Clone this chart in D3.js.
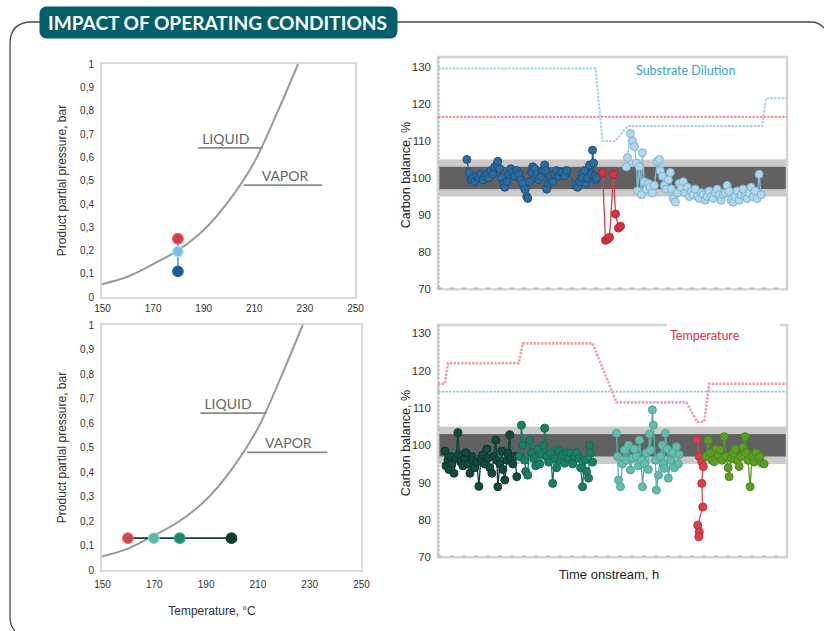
<!DOCTYPE html>
<html><head><meta charset="utf-8">
<script src="https://cdn.jsdelivr.net/npm/d3@7"></script>
<style>
html,body{margin:0;padding:0;background:#fff;}
svg{display:block;}
</style></head>
<body>
<svg id="c" width="824" height="631"></svg>
<script>
// ---------- DATA ----------
const titleText = "IMPACT OF OPERATING CONDITIONS";
const tempTicks = [150,170,190,210,230,250];
const pressTicks = [0,0.1,0.2,0.3,0.4,0.5,0.6,0.7,0.8,0.9,1];
const balanceTicks = [70,80,90,100,110,120,130];

// vapor pressure curve (temperature °C, pressure bar)
const curveTemp = [150,160,170,180,190,200,210,220,227.5];
const curvePress = [0.055,0.087,0.14,0.2,0.285,0.41,0.575,0.81,1.0];
const liquidLabel = {text:"LIQUID", t0:188, t1:213.5, p:0.64};
const vaporLabel = {text:"VAPOR", t0:206, t1:237, p:0.48};

// operating points
const dilutionTemp = [180,180,180];
const dilutionPress = [0.25,0.195,0.11];
const dilutionColors = ["#c9404d","#7dbde3","#1d5a92"];
const temperatureTemp = [160,170,180,200];
const temperaturePress = [0.13,0.13,0.13,0.13];
const temperatureColors = ["#c94a56","#5cb5a6","#1d8a6c","#0e3b2d"];

// carbon balance bands
const bandOuter = [95,105];
const bandInner = [97,103];

// time-series (time onstream, carbon balance %) – top chart: substrate dilution
const seriesDarkBlue = [[29,105],[31,101.5],[33,99.5],[35,100],[37,99],[39,100.5],[41,100],[43,101],[45,99.5],[47,100.5],[49,101],[51,100],[53,102],[55,101],[57,103],[59,103.5],[60,104.5],[62,102.5],[64,100],[66,98.5],[67,97.5],[69,99],[71,101],[73,102.5],[75,101.5],[77,100.5],[79,102],[81,101],[83,99.5],[85,98.5],[87,97],[89,95],[90,94.5],[92,99],[94,101.5],[95,103],[97,102.5],[99,101],[101,99.5],[103,100.5],[105,102],[107,103.5],[108,102],[109,97],[111,98.5],[113,100.5],[115,99],[117,101],[119,102],[121,100.5],[123,101.5],[125,101.5],[127,100.5],[129,102],[138,98],[140,97.5],[142,99],[144,101],[145,100],[147,102],[148,98.5],[150,100],[152,103.5],[154,101],[155,107.5],[156,104],[157,100.5],[158,99.5],[159,100]];
const seriesRedTop = [[165,101.4],[168,83.2],[170,83.5],[172,84],[176,101],[178,90.3],[181,86.5],[183,87]];
const seriesLightBlue = [[189,103],[190,105.5],[193,112],[195,110],[197,108.5],[199,104],[200,96.5],[202,103],[204,95.5],[205,106.8],[207,99],[209,97],[211,98.5],[213,97.5],[215,96],[217,98],[220,104.5],[222,105],[223,102],[225,100.5],[227,98],[229,97],[231,99.5],[233,101.5],[234,97],[236,94.5],[238,93.5],[240,96],[242,98.5],[244,97.5],[246,99],[248,96],[250,97.5],[252,95],[254,96.5],[256,95.5],[258,97],[260,95],[262,94.5],[264,96],[266,95.5],[268,94],[270,95],[272,96.5],[274,95],[276,94.5],[278,96],[280,97],[282,95.5],[284,94],[286,95.5],[288,96],[290,98],[292,96.5],[294,94],[296,93.5],[298,95],[300,96.5],[302,94],[304,95.5],[306,97],[308,95],[310,94.5],[312,96],[314,97.5],[316,95],[318,96.5],[320,94.5],[322,101],[324,95.5]];
const dilutionSetpoint = [[0,129.5],[158,129.5],[165,110],[178,110],[190,114],[325,114],[329,121.5],[350,121.5]];
const tempSetpointTop = [[0,116.5],[350,116.5]];

// bottom chart: temperature
const seriesDarkGreen = [[7,98.5],[8,94.5],[10,96],[11,93.5],[13,97],[14,95],[16,92.5],[18,96.5],[20,103.4],[21,97.5],[23,95.5],[25,94.5],[27,96.5],[28,98],[30,95],[32,92.5],[34,97],[35,96],[37,94],[39,95.5],[41,89],[43,96.5],[45,97.5],[47,95],[49,99],[50,96.5],[52,94],[54,92.5],[56,97],[58,101.4],[59,96],[60,88.9],[62,95],[64,98.5],[65,93.5],[67,90.7],[69,96],[70,97.9],[72,102.8],[73,96.5],[75,95],[77,97],[79,91.6]];
const seriesTeal = [[82,97],[83.7,105.4],[85,100],[87,96],[88,93],[90,92],[92,101.4],[94,98],[96,96.5],[98,94.5],[100,99],[102,95],[104,97.5],[106,100],[107,104.6],[109,97],[111,95.5],[113,98],[115,89.8],[117,96.5],[119,94],[121,98.7],[123,96],[125,97.5],[127,95.2],[129,98],[131,96.5],[133,97.9],[135,95],[137,97],[139,98],[141,96.5],[143,94],[145,88.9],[147,96],[149,93],[151,91.2],[152,100],[153,97.9],[155,95.5]];
const seriesLightTeal = [[179,103.2],[180,97],[181,90.7],[183,88.9],[185,95],[187,98.7],[189,96],[191,100],[193,93.4],[195,96.5],[197,99],[199,97],[201,94.5],[202,101.4],[204,96],[205,88.9],[207,95],[209,98],[211,93.5],[212,103],[213,98.7],[215,109.5],[216,105.4],[218,96],[219,88],[221,92],[223,97],[225,100],[226,95],[227,93.8],[228,103.2],[230,99],[231,91.2],[233,96],[235,98],[237,94],[239,99.6],[241,95],[242,97.5]];
const seriesRedBottom = [[260,101.5],[262,97],[264.5,95.6],[266,94.3],[264.5,89.8],[265.5,83.5],[260.5,78.6],[262,76.8],[261.5,75.5]];
const seriesYellowGreen = [[269,97],[271,101.4],[273,98],[275,96],[277,95.6],[279,99],[281,97.5],[283,98.7],[285,96],[287,102.3],[289,97],[291,94],[292,91.6],[294,96.5],[296,97.9],[298,99],[300,96],[302,94.3],[304,97],[306,99.5],[308,102.3],[309,98],[311,96],[313,88.9],[315,97],[317,95.5],[319,98],[321,96.5],[323,97],[325,95.2],[327,95]];
const tempSetpointBottom = [[0,116.5],[7,116.5],[10,122],[81,122],[85,127.3],[155,127.3],[179,111.5],[249,111.5],[260,106.3],[267,106.3],[272,116.5],[350,116.5]];
const dilutionSetpointBottom = [[0,114.4],[350,114.4]];

// ---------- DRAW ----------
const svg = d3.select("#c");
const axisFont = "'Liberation Sans', Arial, sans-serif";
const labelFont = "Lato, 'Open Sans', sans-serif";

// outer frame
svg.append("path")
  .attr("d","M15,631 Q10,626 10,617 L10,44 Q10,22 32,22 L40,22 M397,22 L811,22 Q819,22 824,28")
  .attr("fill","none").attr("stroke","#4a4a4a").attr("stroke-width",1.3);

// header
svg.append("rect").attr("x",39.5).attr("y",6.5).attr("width",358).attr("height",32).attr("rx",7).attr("fill","#005f69");
svg.append("text").attr("x",48).attr("y",30).text(titleText)
  .attr("fill","#fff").attr("font-family",labelFont).attr("font-weight",700).attr("font-size",19)
  .attr("textLength",339).attr("lengthAdjust","spacingAndGlyphs");

function fmtP(d){ return d===0?"0":(d===1?"1":d3.format(".1f")(d).replace(".",",")); }

function phaseChart(cfg){
  const x = d3.scaleLinear().domain([150,250]).range([cfg.x0,cfg.x1]);
  const y = d3.scaleLinear().domain([0,1]).range([cfg.y0,cfg.y1]);
  const g = svg.append("g");
  g.append("rect").attr("x",cfg.x0-1).attr("y",cfg.y1-1).attr("width",cfg.x1-cfg.x0+2).attr("height",cfg.y0-cfg.y1+2)
    .attr("fill","none").attr("stroke","#d9d9d9").attr("stroke-width",2);
  const ax = g.append("g").attr("transform",`translate(0,${cfg.y0+cfg.xTickGap})`)
    .call(d3.axisBottom(x).tickValues(tempTicks).tickSize(0).tickFormat(d3.format("d")));
  ax.select(".domain").remove();
  ax.selectAll("text").attr("font-family",axisFont).attr("font-size",10).attr("fill","#333");
  const ay = g.append("g").attr("transform",`translate(${cfg.x0-5},0)`)
    .call(d3.axisLeft(y).tickValues(pressTicks).tickSize(0).tickFormat(fmtP));
  ay.select(".domain").remove();
  ay.selectAll("text").attr("font-family",axisFont).attr("font-size",10).attr("fill","#333");
  g.append("text").attr("transform",`translate(${cfg.yTitleX},${(cfg.y0+cfg.y1)/2}) rotate(-90)`)
    .attr("text-anchor","middle").text("Product partial pressure, bar")
    .attr("font-family",axisFont).attr("font-size",12).attr("fill","#333");
  const pts = curveTemp.map((t,i)=>[t,curvePress[i]]);
  g.append("path").datum(pts)
    .attr("d",d3.line().x(d=>x(d[0])).y(d=>y(d[1])).curve(d3.curveCatmullRom))
    .attr("fill","none").attr("stroke","#9a9a9a").attr("stroke-width",2);
  [liquidLabel,vaporLabel].forEach(L=>{
    g.append("line").attr("x1",x(L.t0)).attr("x2",x(L.t1)).attr("y1",y(L.p)).attr("y2",y(L.p))
      .attr("stroke","#8a8a8a").attr("stroke-width",1.8);
    g.append("text").attr("x",x(L.t0)+ (L===liquidLabel?4:18)).attr("y",y(L.p)-4).text(L.text)
      .attr("font-family",labelFont).attr("font-size",14).attr("fill","#666");
  });
  const op = cfg.temps.map((t,i)=>[t,cfg.press[i],cfg.colors[i]]);
  g.append("path").datum(op).attr("d",d3.line().x(d=>x(d[0])).y(d=>y(d[1])))
    .attr("fill","none").attr("stroke",cfg.lineColor).attr("stroke-width",1.8);
  g.selectAll("circle.op").data(op).join("circle")
    .attr("cx",d=>x(d[0])).attr("cy",d=>y(d[1])).attr("r",5.3)
    .attr("fill",d=>d[2]).attr("stroke",d=>d3.color(d[2]).brighter(0.6)).attr("stroke-width",1.2);
  if(cfg.xTitle){
    g.append("text").attr("x",212).attr("y",cfg.xTitleY).attr("text-anchor","middle").text(cfg.xTitle)
      .attr("font-family",axisFont).attr("font-size",12).attr("fill","#333");
  }
}

phaseChart({x0:102,x1:355,y0:297,y1:64,yTitleX:66,xTickGap:5,temps:dilutionTemp,press:dilutionPress,colors:dilutionColors,lineColor:"#6aa6cf"});
phaseChart({x0:102,x1:361,y0:570,y1:325,yTitleX:66,xTickGap:8,temps:temperatureTemp,press:temperaturePress,colors:temperatureColors,lineColor:"#1e3b33",xTitle:"Temperature, °C",xTitleY:615});

function timeChart(cfg){
  const x = d3.scaleLinear().domain([0,350]).range([438,787]);
  const y = d3.scaleLinear().domain([70,130]).range([cfg.y70,cfg.y130]);
  const g = svg.append("g");
  const top = cfg.frameTop, bot = cfg.y70;
  g.append("rect").attr("x",438).attr("width",349).attr("y",y(bandOuter[1])).attr("height",y(bandOuter[0])-y(bandOuter[1])).attr("fill","#cacaca");
  g.append("rect").attr("x",438).attr("width",349).attr("y",y(bandInner[1])).attr("height",y(bandInner[0])-y(bandInner[1])).attr("fill","#616161");
  g.append("rect").attr("x",438).attr("y",top).attr("width",349).attr("height",bot-top)
    .attr("fill","none").attr("stroke","#d4d4d4").attr("stroke-width",2.5);
  g.append("line").attr("x1",439).attr("x2",439).attr("y1",top).attr("y2",bot)
    .attr("stroke","#b5b5b5").attr("stroke-width",1.2).attr("stroke-dasharray","2,2");
  g.append("line").attr("x1",438).attr("x2",787).attr("y1",bot-1).attr("y2",bot-1)
    .attr("stroke","#b5b5b5").attr("stroke-width",1.5).attr("stroke-dasharray","4,8");
  const ay = g.append("g").attr("transform","translate(434,0)")
    .call(d3.axisLeft(y).tickValues(balanceTicks).tickSize(0).tickFormat(d3.format("d")));
  ay.select(".domain").remove();
  ay.selectAll("text").attr("font-family",axisFont).attr("font-size",11.5).attr("fill","#333");
  g.append("text").attr("transform",`translate(410,${(top+bot)/2+2}) rotate(-90)`).attr("text-anchor","middle")
    .text("Carbon balance, %").attr("font-family",axisFont).attr("font-size",12.5).attr("fill","#222");
  const line = d3.line().x(d=>x(d[0])).y(d=>y(d[1]));
  cfg.setpoints.forEach(s=>{
    g.append("path").datum(s.data).attr("d",line)
      .attr("fill","none").attr("stroke",s.color).attr("stroke-width",s.w).attr("stroke-dasharray","2.5,1.2");
  });
  cfg.series.forEach(s=>{
    g.append("path").datum(s.data).attr("d",line)
      .attr("fill","none").attr("stroke",s.line).attr("stroke-width",1.3);
    g.append("g").selectAll("circle").data(s.data).join("circle")
      .attr("cx",d=>x(d[0])).attr("cy",d=>y(d[1])).attr("r",4)
      .attr("fill",s.fill).attr("stroke",s.stroke).attr("stroke-width",1);
  });
  if(cfg.labelBg){
    g.append("rect").attr("x",667).attr("y",top-3).attr("width",113).attr("height",16).attr("fill","#fff");
  }
  g.append("text").attr("x",cfg.labelX).attr("y",cfg.labelY).text(cfg.label)
    .attr("font-family",labelFont).attr("font-size",12.5).attr("fill",cfg.labelColor);
  if(cfg.xTitle){
    g.append("text").attr("x",609).attr("y",579).attr("text-anchor","middle").text(cfg.xTitle)
      .attr("font-family",axisFont).attr("font-size",13).attr("fill","#222");
  }
}

timeChart({
  y70:289.3, y130:66.7, frameTop:57,
  setpoints:[{data:dilutionSetpoint,color:"#a9cfe3",w:2},{data:tempSetpointTop,color:"#e8878f",w:1.8}],
  series:[
    {data:seriesDarkBlue,fill:"#2d6b9d",stroke:"#1d527e",line:"#245d8a"},
    {data:seriesRedTop,fill:"#d23440",stroke:"#b52430",line:"#d0404a"},
    {data:seriesLightBlue,fill:"#b2d6ea",stroke:"#7ab6d6",line:"#8ec2de"}
  ],
  label:"Substrate Dilution", labelX:636, labelY:75, labelColor:"#3aa2da"
});
timeChart({
  y70:557.3, y130:333.3, frameTop:325,
  setpoints:[{data:dilutionSetpointBottom,color:"#9dbfd0",w:1.8},{data:tempSetpointBottom,color:"#eba3ab",w:2.6}],
  series:[
    {data:seriesDarkGreen,fill:"#124a3c",stroke:"#0b362b",line:"#0f4134"},
    {data:seriesTeal,fill:"#1b7e64",stroke:"#126a53",line:"#1a7a60"},
    {data:seriesLightTeal,fill:"#66bcac",stroke:"#48a897",line:"#5ab3a3"},
    {data:seriesRedBottom,fill:"#d9404c",stroke:"#c02e3a",line:"#d84a55"},
    {data:seriesYellowGreen,fill:"#5e9e26",stroke:"#4a8a1a",line:"#5a9a22"}
  ],
  labelBg:true,
  label:"Temperature", labelX:670, labelY:340, labelColor:"#d63048",
  xTitle:"Time onstream, h"
});
</script>
</body></html>
